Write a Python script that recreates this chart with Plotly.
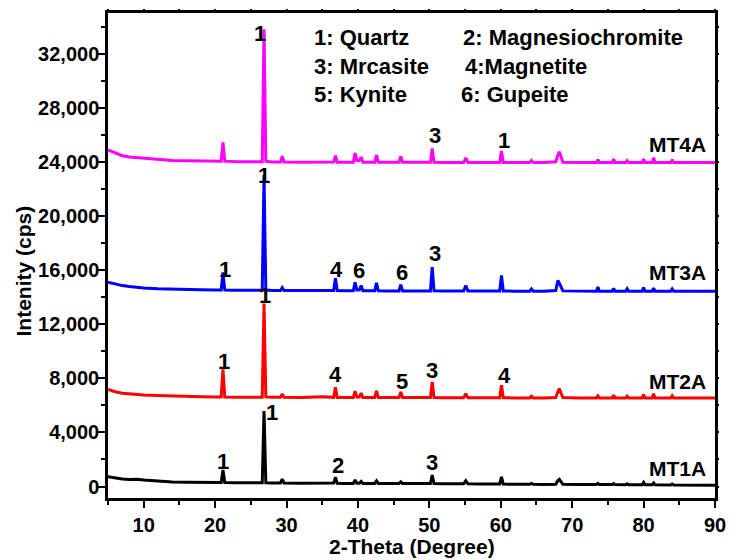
import plotly.graph_objects as go

# ---------------- data ----------------
# shared 2-theta sampling points (degrees)
two_theta = [
    5, 6, 7, 8, 9, 10, 12, 14, 16, 18, 20,
    20.85, 21.1, 21.35,
    23, 26.6, 26.85, 27.1, 28,
    29.15, 29.4, 29.65,
    32, 35, 36.6, 36.85, 37.1,
    38, 39.35, 39.6, 39.85, 40.2, 40.45, 40.7,
    42.35, 42.6, 42.85,
    44, 45.75, 46.0, 46.25,
    48, 50.15, 50.4, 50.65,
    52, 54.8, 55.1, 55.4,
    57, 59.85, 60.1, 60.35,
    62, 64.05, 64.3, 64.55,
    66, 67.7, 68.0, 68.2, 68.4, 68.7,
    71, 73.4, 73.6, 73.8,
    75.6, 75.8, 76.0,
    77.5, 77.7, 77.9,
    79.8, 80.0, 80.2,
    81.2, 81.4, 81.6,
    83.8, 84.0, 84.2,
    87, 90,
]

mt1a = [
    720, 620, 560, 520, 540, 480, 400, 340, 320, 300, 290,
    290, 1220, 290,
    270, 280, 5570, 280, 260,
    260, 550, 260,
    240, 250, 250, 680, 240,
    230, 230, 480, 240, 240, 380, 230,
    230, 420, 230,
    220, 220, 340, 220,
    220, 220, 850, 220,
    200, 200, 430, 200,
    180, 180, 720, 180,
    160, 160, 230, 160,
    150, 160, 450, 530, 380, 160,
    140, 140, 230, 140,
    140, 220, 140,
    130, 200, 130,
    130, 300, 130,
    130, 260, 130,
    120, 190, 120,
    110, 100,
]

mt2a = [
    7170, 7000, 6900, 6850, 6800, 6760, 6720, 6680, 6650, 6630, 6620,
    6620, 8660, 6620,
    6600, 6600, 13530, 6620, 6590,
    6590, 6850, 6590,
    6580, 6640, 6590, 7340, 6580,
    6580, 6580, 7040, 6620, 6620, 6900, 6580,
    6580, 7060, 6580,
    6570, 6570, 6990, 6570,
    6570, 6570, 7730, 6570,
    6560, 6560, 6850, 6560,
    6560, 6560, 7480, 6560,
    6550, 6550, 6680, 6550,
    6550, 6580, 7000, 7240, 6950, 6570,
    6550, 6550, 6700, 6550,
    6550, 6760, 6550,
    6550, 6680, 6550,
    6550, 6800, 6550,
    6550, 6850, 6550,
    6550, 6700, 6550,
    6540, 6540,
]

mt3a = [
    15100, 14950, 14850, 14780, 14720, 14680, 14620, 14580, 14560, 14540, 14520,
    14520, 15820, 14520,
    14500, 14500, 23000, 14520, 14490,
    14490, 14700, 14490,
    14480, 14520, 14490, 15400, 14480,
    14470, 14470, 15100, 14520, 14520, 14860, 14470,
    14470, 15060, 14470,
    14460, 14460, 14910, 14460,
    14460, 14460, 16210, 14460,
    14450, 14450, 14860, 14450,
    14450, 14450, 15600, 14450,
    14440, 14440, 14600, 14440,
    14440, 14480, 15230, 15050, 14800, 14460,
    14440, 14440, 14740, 14440,
    14440, 14650, 14440,
    14440, 14620, 14440,
    14440, 14700, 14440,
    14440, 14660, 14440,
    14440, 14600, 14440,
    14440, 14440,
]

mt4a = [
    24890, 24650, 24450, 24350, 24300, 24250, 24150, 24100, 24080, 24050, 24050,
    24050, 25430, 24050,
    24000, 24000, 33790, 24050, 23980,
    23980, 24420, 23980,
    23970, 23980, 23980, 24450, 23970,
    23970, 23970, 24640, 24100, 24100, 24350, 23970,
    23960, 24500, 23960,
    23960, 23960, 24400, 23960,
    23960, 23960, 24990, 23960,
    23950, 23950, 24300, 23950,
    23950, 23950, 24810, 23950,
    23950, 23950, 24100, 23950,
    23950, 24000, 24500, 24740, 24450, 23960,
    23950, 23950, 24150, 23950,
    23950, 24200, 23950,
    23950, 24080, 23950,
    23950, 24200, 23950,
    23950, 24300, 23950,
    23950, 24150, 23950,
    23950, 23950,
]

series_names = ["MT1A", "MT2A", "MT3A", "MT4A"]
series_colors = ["#000000", "#ff0000", "#0000ff", "#ff00ff"]
series_values = [mt1a, mt2a, mt3a, mt4a]
series_label_y = [1340, 7780, 15840, 25250]

# phase number labels over peaks
peak_label_x = [26.3, 50.78, 60.47,
                26.8, 21.4, 37.0, 40.08, 46.2, 50.75,
                21.27, 27.05, 36.9, 46.13, 50.43, 60.57,
                21.1, 28.0, 37.19, 50.4]
peak_label_y = [33510, 25950, 25585,
                23000, 16070, 16070, 15960, 15840, 17190,
                9275, 14155, 8280, 7730, 8590, 8170,
                1830, 5455, 1585, 1750]
peak_label_text = ["1", "3", "1",
                   "1", "1", "4", "6", "6", "3",
                   "1", "1", "4", "5", "3", "4",
                   "1", "1", "2", "3"]

phase_key_text = ["1: Quartz", "3: Mrcasite", "5: Kynite",
                  "2: Magnesiochromite", "4:Magnetite", "6: Gupeite"]
phase_key_x = [33.5, 33.5, 33.5, 54.5, 54.7, 54.1]
phase_key_y = [33160, 31040, 29010, 33160, 31040, 29010]

x_tick_vals = [10, 20, 30, 40, 50, 60, 70, 80, 90]
x_tick_text = ["10", "20", "30", "40", "50", "60", "70", "80", "90"]
y_tick_vals = [0, 4000, 8000, 12000, 16000, 20000, 24000, 28000, 32000]
y_tick_text = ["0", "4,000", "8,000", "12,000", "16,000", "20,000",
               "24,000", "28,000", "32,000"]

x_range = [5, 90]
y_range = [-850, 35000]

for v in series_values:
    assert len(v) == len(two_theta), (len(v), len(two_theta))

# ---------------- figure ----------------
FONT = "Liberation Sans, Arial, sans-serif"

fig = go.Figure()
for name, vals, col in zip(series_names, series_values, series_colors):
    fig.add_trace(go.Scatter(
        x=two_theta, y=vals, mode="lines", name=name,
        line=dict(color=col, width=3), showlegend=False,
    ))

# empty trace carrying the mirrored tick axes (top / right)
fig.add_trace(go.Scatter(x=[], y=[], xaxis="x2", yaxis="y2",
                         showlegend=False, hoverinfo="skip"))

annotations = []
for t, xv, yv in zip(peak_label_text, peak_label_x, peak_label_y):
    annotations.append(dict(x=xv, y=yv, xref="x", yref="y", text=t,
                            showarrow=False, xanchor="center", yanchor="middle",
                            font=dict(family=FONT, size=22, color="black", weight="bold")))
for name, yv in zip(series_names, series_label_y):
    annotations.append(dict(x=89.0, y=yv, xref="x", yref="y", text=name,
                            showarrow=False, xanchor="right", yanchor="middle",
                            font=dict(family=FONT, size=21, color="black", weight="bold")))
for t, xv, yv in zip(phase_key_text, phase_key_x, phase_key_y):
    annotations.append(dict(x=xv, y=yv, xref="x", yref="y", text=t,
                            showarrow=False, xanchor="left", yanchor="middle",
                            font=dict(family=FONT, size=22, color="black", weight="bold")))
# axis titles placed as text in paper coordinates
annotations.append(dict(x=-0.14, y=0.467, xref="paper", yref="paper",
                        text="Intenity (cps)", textangle=-90, showarrow=False,
                        xanchor="center", yanchor="middle",
                        font=dict(family=FONT, size=21, color="black", weight="bold")))
annotations.append(dict(x=0.5, y=-0.099, xref="paper", yref="paper",
                        text="2-Theta (Degree)", showarrow=False,
                        xanchor="center", yanchor="middle",
                        font=dict(family=FONT, size=21, color="black", weight="bold")))

axis_common = dict(showgrid=False, zeroline=False, showline=True,
                   linecolor="black", linewidth=2.5, mirror=True,
                   ticks="outside", ticklen=7, tickwidth=2, tickcolor="black",
                   tickfont=dict(family=FONT, size=20, color="black", weight="bold"))

fig.update_layout(
    width=736, height=560,
    margin=dict(l=108, r=10, t=12, b=62),
    paper_bgcolor="white", plot_bgcolor="white",
    annotations=annotations,
    xaxis=dict(range=x_range, tickmode="array", tickvals=x_tick_vals, ticktext=x_tick_text,
               minor=dict(ticks="outside", ticklen=4, tickwidth=2, tickcolor="black",
                          dtick=5, tick0=5),
               **axis_common),
    yaxis=dict(range=y_range, tickmode="array", tickvals=y_tick_vals, ticktext=y_tick_text,
               minor=dict(ticks="outside", ticklen=4, tickwidth=2, tickcolor="black",
                          dtick=2000, tick0=0),
               ticklabelstandoff=-5,
               **axis_common),
    xaxis2=dict(range=x_range, overlaying="x", side="top", anchor="y",
                showgrid=False, zeroline=False, showline=False, showticklabels=False,
                ticks="outside", ticklen=3, tickwidth=1.5, tickcolor="black",
                tickmode="linear", tick0=5, dtick=5),
    yaxis2=dict(range=y_range, overlaying="y", side="right", anchor="x",
                showgrid=False, zeroline=False, showline=False, showticklabels=False,
                ticks="outside", ticklen=3, tickwidth=1.5, tickcolor="black",
                tickmode="linear", tick0=0, dtick=2000),
)

# remove the default page margin so the 736x560 figure fills the window exactly
fig.write_html("out.html",
               config={"displayModeBar": False},
               post_script="document.body.style.margin='0px';document.body.style.padding='0px';")
